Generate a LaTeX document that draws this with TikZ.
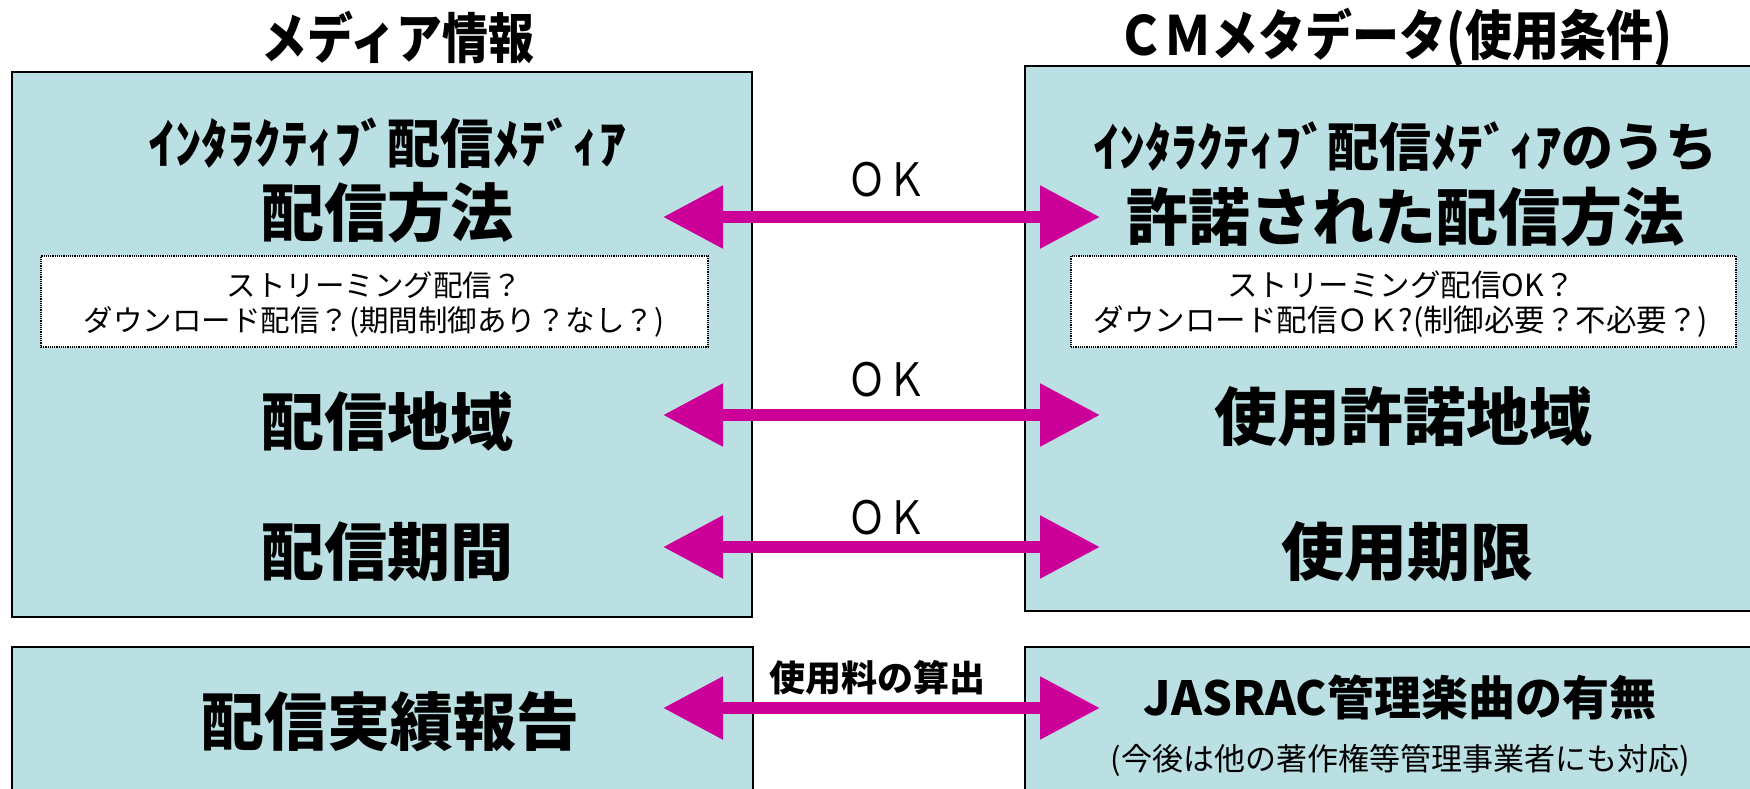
\documentclass[tikz,border=0pt]{standalone}
\usepackage{fontspec}
\newfontfamily\jp{Noto Sans CJK JP}
\usetikzlibrary{arrows.meta}
\definecolor{boxfill}{HTML}{BBE0E3}
\definecolor{arrowc}{HTML}{CC0099}
\tikzset{
  panel/.style={draw=black, line width=2pt, fill=boxfill, outer sep=0pt, inner sep=0pt, anchor=north west},
  notebox/.style={draw=black, densely dotted, line width=1.2pt, fill=white, inner sep=0pt},
  link/.style={arrowc, line width=12pt, {Triangle[length=60pt,width=60pt]}-{Triangle[length=60pt,width=60pt]}},
  bigtxt/.style={inner sep=0pt, font=\jp\bfseries\fontsize{#1pt}{#1pt}\selectfont},
  regtxt/.style={inner sep=0pt, align=center, font=\jp\fontsize{#1pt}{35pt}\selectfont},
}
\begin{document}
\begin{tikzpicture}[x=1pt,y=-1pt]
\clip (0,0) rectangle (1750,788);
\fill[white] (0,0) rectangle (1750,788);
% titles
\node[bigtxt=54] (tl) at (398,37) {\scalebox{0.85}[1]{メディア情報}};
\node[bigtxt=54] (tr) at (1395,37) {\scalebox{0.87}[1]{ＣＭメタデータ(使用条件)}};
% panels
\node[panel, minimum width=740pt, minimum height=545pt] (lbox) at (12,72) {};
\node[panel, minimum width=740pt, minimum height=545pt] (rbox) at (1025,66) {};
\node[panel, minimum width=741pt, minimum height=160pt] (lbot) at (12,647) {};
\node[panel, minimum width=740pt, minimum height=160pt] (rbot) at (1025,647) {};
% left panel texts
\node[bigtxt=53] (lsub) at (387,143) {ｲﾝﾀﾗｸﾃｨﾌﾞ配信ﾒﾃﾞｨｱ};
\node[bigtxt=63] (lmeth) at (387,213) {配信方法};
\node[notebox, minimum width=667pt, minimum height=91pt] (lnote) at (374.5,301.5) {};
\node[regtxt=29.5] (lnotet) at (374,304.5) {ストリーミング配信？\\ダウンロード配信？(期間制御あり？なし？)};
\node[bigtxt=63] (lreg) at (387,422) {配信地域};
\node[bigtxt=63] (lper) at (387,552) {配信期間};
\node[bigtxt=63] (lrep) at (390,722) {配信実績報告};
% right panel texts
\node[bigtxt=52] (rsub) at (1405,147) {ｲﾝﾀﾗｸﾃｨﾌﾞ配信ﾒﾃﾞｨｱのうち};
\node[bigtxt=62] (rmeth) at (1405,217) {許諾された配信方法};
\node[notebox, minimum width=665pt, minimum height=91pt] (rnote) at (1403.5,301.5) {};
\node[regtxt=30.5] (rnotet) at (1401,304.5) {ストリーミング配信OK？\\ダウンロード配信ＯＫ?(制御必要？不必要？)};
\node[bigtxt=63] (rreg) at (1403,417) {使用許諾地域};
\node[bigtxt=63] (rper) at (1407,552) {使用期限};
\node[bigtxt=47] (rjas) at (1400,697) {JASRAC管理楽曲の有無};
\node[regtxt=31] (rnote2) at (1400,760) {(今後は他の著作権等管理事業者にも対応)};
% arrow end points
\coordinate (a1L) at (663,217); \coordinate (a1R) at (1100,217);
\coordinate (a2L) at (663,415); \coordinate (a2R) at (1100,415);
\coordinate (a3L) at (663,547); \coordinate (a3R) at (1100,547);
\coordinate (a4L) at (663,708); \coordinate (a4R) at (1100,708);
\draw[link] (a1L) -- (a1R);
\draw[link] (a2L) -- (a2R);
\draw[link] (a3L) -- (a3R);
\draw[link] (a4L) -- (a4R);
% labels
\node[inner sep=0pt, font=\jp\fontsize{46pt}{46pt}\selectfont] (ok1) at (887,180) {\scalebox{0.85}[1]{ＯＫ}};
\node[inner sep=0pt, font=\jp\fontsize{46pt}{46pt}\selectfont] (ok2) at (887,380) {\scalebox{0.85}[1]{ＯＫ}};
\node[inner sep=0pt, font=\jp\fontsize{46pt}{46pt}\selectfont] (ok3) at (887,518) {\scalebox{0.85}[1]{ＯＫ}};
\node[bigtxt=36] (fee) at (877,678) {使用料の算出};
\end{tikzpicture}
\end{document}
